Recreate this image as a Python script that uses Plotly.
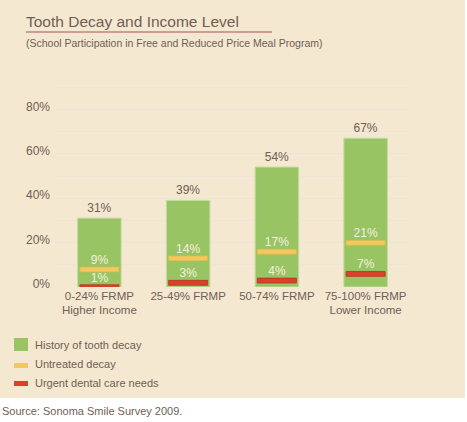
import plotly.graph_objects as go

# data
categories = ["0-24% FRMP<br>Higher Income", "25-49% FRMP", "50-74% FRMP", "75-100% FRMP<br>Lower Income"]
history = [31, 39, 54, 67]
untreated = [9, 14, 17, 21]
urgent = [1, 3, 4, 7]
tick_vals = [0, 10, 20, 30, 40, 50, 60, 70, 80, 90]
tick_text = ["0%", "", "20%", "", "40%", "", "60%", "", "80%", ""]

W, H = 467, 422
FONT = "Liberation Sans, Arial, sans-serif"
TXT = "#6f6055"
BEIGE = "#f4e8d0"
GREEN = "#98c464"
YELLOW = "#f2c95c"
RED = "#d9412a"

band = 2.2  # thickness of the small marker bars, in %

fig = go.Figure()

fig.add_trace(go.Bar(
    x=categories, y=history, width=0.49,
    marker=dict(color=GREEN, line=dict(color="#c2dc9c", width=1)),
    text=[f"{v}%" for v in history], textposition="outside",
    textfont=dict(family=FONT, size=12, color=TXT),
    cliponaxis=False, showlegend=False, hoverinfo="skip",
))

# untreated + urgent as thin bands inside the green bar
for vals, col, edge in [(untreated, YELLOW, "#e0b850"), (urgent, RED, "#b83420")]:
    fig.add_trace(go.Bar(
        x=categories, y=[band] * len(vals), base=[v - band for v in vals], width=0.44,
        marker=dict(color=col, line=dict(color=edge, width=0.8)),
        showlegend=False, hoverinfo="skip",
    ))
    fig.add_trace(go.Scatter(
        x=categories, y=vals, mode="text",
        text=[f"{v}%" for v in vals], textposition="top center",
        textfont=dict(family=FONT, size=12, color="#f6f0dc"),
        showlegend=False, hoverinfo="skip",
    ))

fig.update_layout(
    width=W, height=H,
    margin=dict(l=0, r=0, t=0, b=0, autoexpand=False),
    paper_bgcolor="white",
    plot_bgcolor="#faf7f1",
    barmode="overlay",
    bargap=0.51,
    font=dict(family=FONT, size=11, color=TXT),
    xaxis=dict(
        domain=[55 / W, 410 / W],
        automargin=False,
        showgrid=False, zeroline=False, showline=False,
        tickfont=dict(family=FONT, size=11.5, color=TXT),
        ticks="",
    ),
    yaxis=dict(
        domain=[1 - 287 / H, 1 - 65 / H],
        automargin=False,
        range=[0, 100],
        tickvals=tick_vals, ticktext=tick_text,
        tickfont=dict(family=FONT, size=12, color=TXT),
        showgrid=True, gridcolor="#ebe4d8", gridwidth=1,
        zeroline=False, showline=False, ticks="", ticklabelstandoff=4,
        ticklabelshift=-3,
    ),
)

def px_x(v):
    return v / W

def px_y(v):
    return 1 - v / H

shapes = [
    # beige backdrop
    dict(type="rect", xref="paper", yref="paper", x0=0, x1=px_x(465), y0=px_y(398), y1=1,
         fillcolor=BEIGE, line=dict(width=0), layer="below"),
    # title underline
    dict(type="line", xref="paper", yref="paper", x0=px_x(26), x1=px_x(272), y0=px_y(32), y1=px_y(32),
         line=dict(color="#a8505c", width=1.2)),
    # legend swatches
    dict(type="rect", xref="paper", yref="paper", x0=px_x(14), x1=px_x(28), y0=px_y(351), y1=px_y(338),
         fillcolor=GREEN, line=dict(width=0)),
    dict(type="rect", xref="paper", yref="paper", x0=px_x(14), x1=px_x(28), y0=px_y(368), y1=px_y(363),
         fillcolor=YELLOW, line=dict(width=0)),
    dict(type="rect", xref="paper", yref="paper", x0=px_x(14), x1=px_x(28), y0=px_y(386), y1=px_y(381),
         fillcolor=RED, line=dict(width=0)),
]
fig.update_layout(shapes=shapes)

annotations = [
    dict(text="Tooth Decay and Income Level", x=px_x(24), y=px_y(22),
         font=dict(family=FONT, size=15.5, color=TXT)),
    dict(text="(School Participation in Free and Reduced Price Meal Program)", x=px_x(24), y=px_y(43),
         font=dict(family=FONT, size=10.5, color=TXT)),
    dict(text="History of tooth decay", x=px_x(33), y=px_y(345),
         font=dict(family=FONT, size=11, color=TXT)),
    dict(text="Untreated decay", x=px_x(33), y=px_y(364),
         font=dict(family=FONT, size=11, color=TXT)),
    dict(text="Urgent dental care needs", x=px_x(33), y=px_y(383),
         font=dict(family=FONT, size=11, color=TXT)),
    dict(text="Source: Sonoma Smile Survey 2009.", x=px_x(0), y=px_y(411),
         font=dict(family=FONT, size=11, color=TXT)),
]
for a in annotations:
    fig.add_annotation(xref="paper", yref="paper", xanchor="left", yanchor="middle",
                       showarrow=False, **a)

fig.write_html("out.html", config={"displayModeBar": False},
               post_script="document.body.style.margin='0px';")
